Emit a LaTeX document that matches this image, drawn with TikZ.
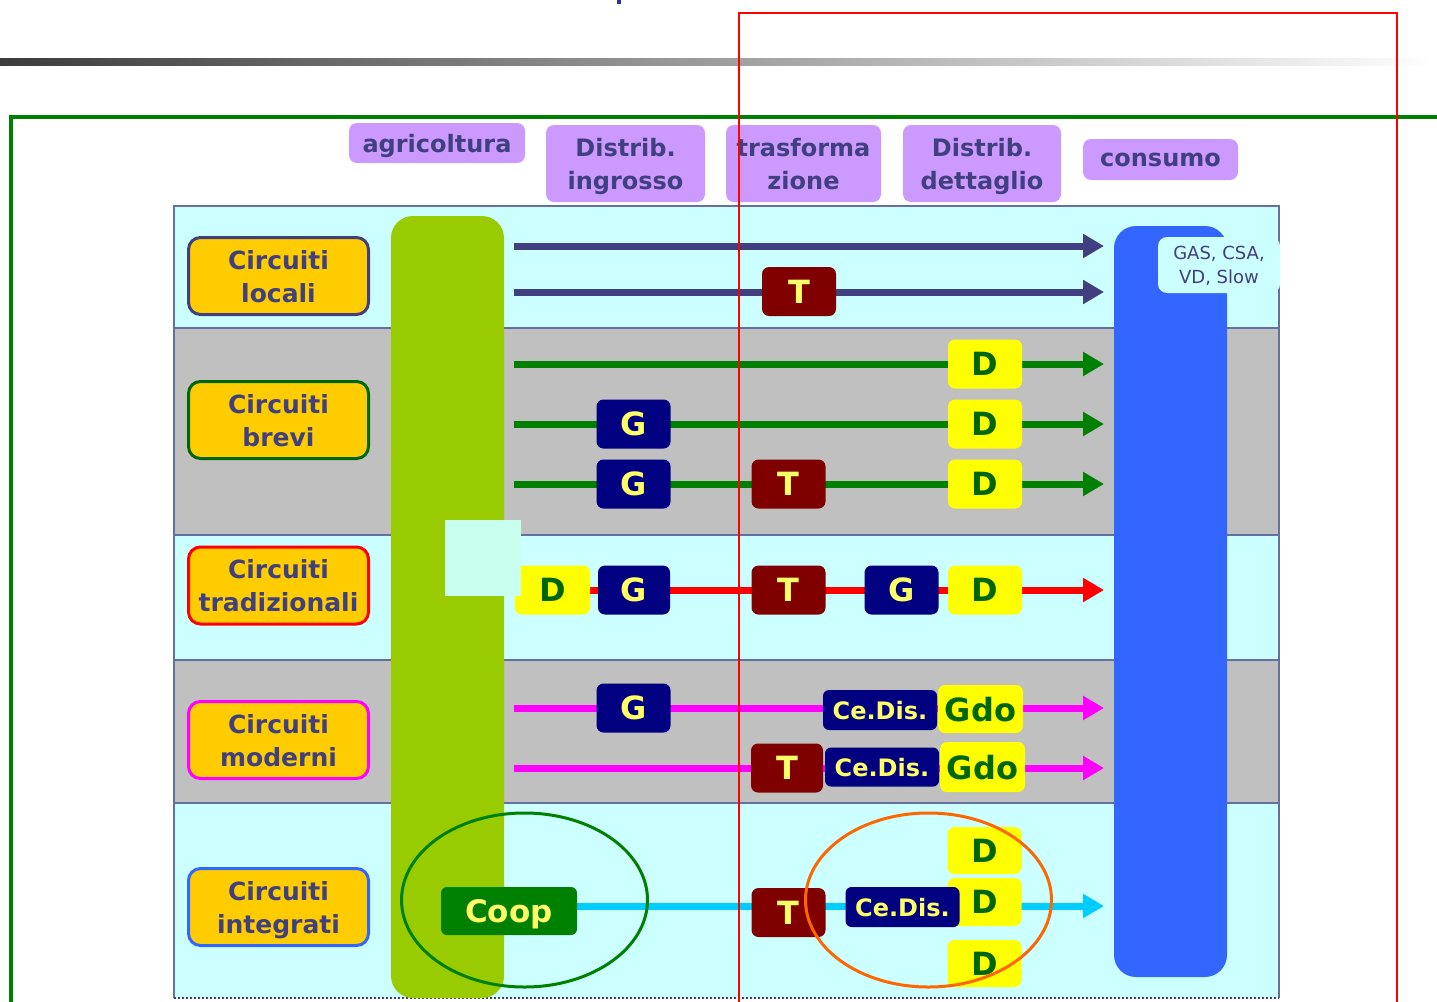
\documentclass[tikz,border=0pt]{standalone}
\usepackage{fontspec}
\setmainfont{DejaVu Sans}
\usetikzlibrary{arrows.meta}
\definecolor{slate}{RGB}{64,64,128}
\definecolor{cyanbg}{RGB}{204,255,255}
\definecolor{graybg}{RGB}{192,192,192}
\definecolor{purp}{RGB}{204,153,255}
\definecolor{gold}{RGB}{255,204,0}
\definecolor{lime}{RGB}{153,204,0}
\definecolor{mint}{RGB}{200,255,238}
\definecolor{bbar}{RGB}{51,102,255}
\definecolor{dgreen}{RGB}{0,128,0}
\definecolor{ddgreen}{RGB}{0,102,0}
\definecolor{navyb}{RGB}{0,0,128}
\definecolor{maroonb}{RGB}{128,0,0}
\definecolor{ytext}{RGB}{255,255,102}
\definecolor{yfill}{RGB}{255,255,0}
\definecolor{lineblue}{RGB}{0,204,255}
\definecolor{orng}{RGB}{255,102,0}
\definecolor{tborder}{RGB}{102,112,160}
\definecolor{titleblue}{RGB}{51,51,153}
\definecolor{magb}{RGB}{255,0,255}
\definecolor{redb}{RGB}{255,0,0}
\tikzset{
  hdr/.style={fill=purp, rounded corners=8, text=slate, font=\fontsize{24}{33}\selectfont\bfseries, align=center, inner sep=0, text depth=0pt},
  cat/.style={fill=gold, rounded corners=12, line width=3, text=slate, font=\fontsize{25}{33}\selectfont\bfseries, align=center, inner sep=0, minimum width=180, minimum height=77, text depth=0pt},
  lbox/.style={rounded corners=7, inner sep=0, minimum width=74, minimum height=49, font=\fontsize{32}{32}\selectfont\bfseries, text depth=0pt},
  gbox/.style={lbox, fill=navyb, text=ytext},
  tbox/.style={lbox, fill=maroonb, text=ytext},
  dbox/.style={lbox, fill=yfill, text=ddgreen},
  cdis/.style={rounded corners=6, inner sep=0, minimum width=114, minimum height=40, fill=navyb, text=ytext, font=\fontsize{24}{24}\selectfont\bfseries, text depth=0pt},
  flow/.style={line width=7, -{Triangle[length=21pt,width=23pt]}},
  rowsep/.style={draw=tborder, line width=1.5}
}
\begin{document}
\begin{tikzpicture}[x=1pt,y=-1pt]
\useasboundingbox (0,0) rectangle (1437,1001);
\clip (0,0) rectangle (1437,1001);
\fill[white] (0,0) rectangle (1437,1001);
% title fragment
\fill[titleblue] (617,0) rectangle (621,4);
% gradient bar
\shade[left color={rgb,255:red,60;green,60;blue,60}, right color=white] (0,58) rectangle (1437,65);
% table rows
\fill[cyanbg] (174,206) rectangle (1279,328);
\fill[graybg] (174,328) rectangle (1279,535);
\fill[cyanbg] (174,535) rectangle (1279,660);
\fill[graybg] (174,660) rectangle (1279,803);
\fill[cyanbg] (174,803) rectangle (1279,998);
\draw[rowsep] (174,328) -- (1279,328);
\draw[rowsep] (174,535) -- (1279,535);
\draw[rowsep] (174,660) -- (1279,660);
\draw[rowsep] (174,803) -- (1279,803);
\draw[rowsep] (174,998) -- (174,206) -- (1279,206) -- (1279,998);
\draw[slate, line width=2, dotted] (174,998) -- (1279,998);
% headers
\node[hdr, minimum width=176, minimum height=40] (agr) at (437,143) {agricoltura};
\node[hdr, minimum width=159, minimum height=77] (ingr) at (625.5,163.5) {Distrib.\\ingrosso};
\node[hdr, minimum width=155, minimum height=77] (trasf) at (803.5,163.5) {trasforma\\zione};
\node[hdr, minimum width=158, minimum height=77] (dett) at (982,163.5) {Distrib.\\dettaglio};
\node[hdr, minimum width=155, minimum height=41] (cons) at (1160.5,159.5) {consumo};
% category labels
\node[cat, draw=slate] (loc) at (278.5,276) {Circuiti\\locali};
\node[cat, draw=ddgreen] (bre) at (278.5,420) {Circuiti\\brevi};
\node[cat, draw=redb] (tra) at (278.5,585.5) {Circuiti\\tradizionali};
\node[cat, draw=magb] (mod) at (278.5,740) {Circuiti\\moderni};
\node[cat, draw=bbar] (int) at (278.5,907) {Circuiti\\integrati};
% bars
\fill[lime, rounded corners=22] (391,216) rectangle (504,998);
\fill[bbar, rounded corners=22] (1114,226) rectangle (1227,977);
\node[fill=cyanbg, rounded corners=9, minimum width=122, minimum height=56, inner sep=0, align=center, text=slate, font=\fontsize{18}{24}\selectfont, text depth=0pt] (gas) at (1219,265) {GAS, CSA,\\VD, Slow};
% flows
\foreach \n/\y in {a/246,b/292} {\coordinate (\n s) at (514,\y); \coordinate (\n e) at (1104,\y); \draw[flow, slate] (\n s) -- (\n e);}
\foreach \n/\y in {c/364,d/424,e/484} {\coordinate (\n s) at (514,\y); \coordinate (\n e) at (1104,\y); \draw[flow, dgreen] (\n s) -- (\n e);}
\coordinate (fs) at (514,590); \coordinate (fe) at (1104,590); \draw[flow, redb] (fs) -- (fe);
\foreach \n/\y in {g/708,h/768} {\coordinate (\n s) at (514,\y); \coordinate (\n e) at (1104,\y); \draw[flow, magb] (\n s) -- (\n e);}
\coordinate (is) at (540,906); \coordinate (ie) at (1104,906); \draw[flow, lineblue] (is) -- (ie);
% row 1
\node[tbox] (t1) at (799,291.5) {T};
% row 2
\node[dbox] (d1) at (985,364) {D};
\node[dbox] (d2) at (985,424) {D};
\node[dbox] (d3) at (985,484) {D};
\node[gbox] (g1) at (633.5,424) {G};
\node[gbox] (g2) at (633.5,484) {G};
\node[tbox] (t2) at (788.5,484) {T};
% row 3
\node[dbox, minimum width=75] (d4) at (552.5,590) {D};
\node[gbox, minimum width=72] (g3) at (634,590) {G};
\node[tbox] (t3) at (788.5,590) {T};
\node[gbox] (g4) at (901.5,590) {G};
\node[dbox] (d5) at (985,590) {D};
\fill[mint] (445,520) rectangle (521,596);
% row 4
\node[gbox] (g5) at (633.5,708) {G};
\node[cdis] (cd1) at (880,710) {Ce.Dis.};
\node[dbox, minimum width=85, minimum height=48] (gdo1) at (980.5,709) {Gdo};
\node[tbox, minimum width=72] (t4) at (787,768) {T};
\node[cdis, minimum height=39] (cd2) at (882,767) {Ce.Dis.};
\node[dbox, minimum width=85, minimum height=50] (gdo2) at (982.5,767) {Gdo};
% row 5
\node[rounded corners=6, inner sep=0, minimum width=136, minimum height=48, fill=dgreen, text=ytext, font=\fontsize{31}{31}\selectfont\bfseries, text depth=0pt] (coop) at (509,911) {Coop};
\node[tbox] (t5) at (788.5,912.5) {T};
\node[dbox, minimum height=47] (d6) at (984.5,850.5) {D};
\node[dbox, minimum height=48] (d7) at (984.5,902) {D};
\node[dbox, minimum height=47] (d8) at (984.5,963.5) {D};
\node[cdis] (cd3) at (902.5,907) {Ce.Dis.};
\draw[dgreen, line width=3] (524.5,900) ellipse [x radius=123, y radius=87];
\draw[orng, line width=3] (928.5,900) ellipse [x radius=123, y radius=87];
% green frame
\draw[dgreen, line width=4] (11,1010) -- (11,117) -- (1445,117);
% red annotation rectangle
\draw[redb, line width=2] (739,1010) -- (739,13) -- (1397,13) -- (1397,1010);
\end{tikzpicture}
\end{document}
